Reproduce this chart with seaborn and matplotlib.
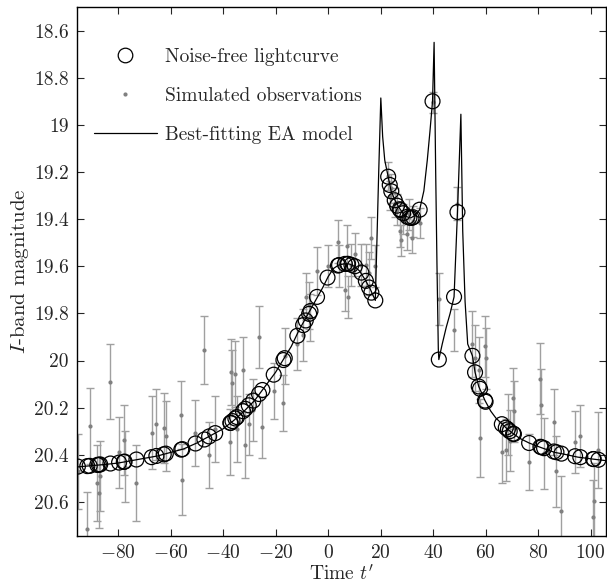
import matplotlib
matplotlib.use("Agg")
import matplotlib.pyplot as plt
from matplotlib.lines import Line2D
from matplotlib.ticker import FuncFormatter, MultipleLocator
import numpy as np
import pandas as pd
import seaborn as sns

# observation epochs, noise-free magnitude, simulated magnitude and its error
obs_t = [-95.3, -91.7, -90.8, -87.9, -87.3, -86.8, -82.9, -79.6, -77.8, -77.5,
         -73.0, -67.2, -65.4, -62.6, -61.8, -55.9, -55.5, -50.5, -47.1, -45.3,
         -43.0, -37.2, -37.1, -36.4, -35.3, -34.7, -32.4, -31.5, -30.2, -28.5,
         -26.3, -25.0, -20.7, -17.0, -16.5, -11.7, -9.5, -8.5, -7.2, -6.7,
         -4.2, -0.2, 3.8, 4.2, 6.4, 7.4, 7.6, 8.9, 10.2, 12.7,
         14.4, 15.6, 16.5, 18.0, 22.9, 23.5, 24.1, 25.4, 26.3, 27.3,
         27.6, 28.6, 30.2, 31.0, 31.8, 32.4, 34.9, 39.8, 42.2, 48.0,
         49.3, 55.0, 56.0, 57.4, 57.9, 59.8, 60.0, 66.2, 67.7, 68.5,
         69.2, 70.5, 70.8, 76.6, 80.9, 81.3, 82.3, 86.0, 87.0, 88.9,
         94.1, 96.1, 101.0, 101.2, 103.0]
true_mag = [20.450, 20.448, 20.447, 20.443, 20.442, 20.441, 20.437, 20.433, 20.430, 20.429,
            20.420, 20.410, 20.405, 20.398, 20.395, 20.378, 20.376, 20.352, 20.335, 20.322,
            20.308, 20.265, 20.264, 20.257, 20.246, 20.240, 20.215, 20.205, 20.190, 20.170,
            20.142, 20.125, 20.060, 19.998, 19.990, 19.895, 19.850, 19.830, 19.802, 19.790,
            19.730, 19.648, 19.597, 19.595, 19.590, 19.590, 19.590, 19.594, 19.600, 19.627,
            19.662, 19.690, 19.712, 19.745, 19.220, 19.255, 19.282, 19.320, 19.343, 19.358,
            19.362, 19.375, 19.390, 19.394, 19.395, 19.392, 19.360, 18.900, 19.996, 19.730,
            19.370, 19.980, 20.050, 20.110, 20.120, 20.170, 20.175, 20.270, 20.285, 20.292,
            20.300, 20.310, 20.312, 20.350, 20.366, 20.368, 20.372, 20.386, 20.389, 20.395,
            20.406, 20.410, 20.418, 20.418, 20.421]
obs_mag = [20.47, 20.716, 20.277, 20.519, 20.56, 20.49, 20.09, 20.39, 20.337, 20.45,
           20.52, 20.306, 20.27, 20.286, 20.32, 20.23, 20.505, 20.306, 19.956, 20.40,
           20.29, 20.347, 20.05, 20.095, 20.056, 20.29, 20.04, 20.36, 20.27, 20.21,
           19.90, 20.284, 20.13, 20.18, 19.98, 19.93, 19.89, 19.73, 19.766, 19.816,
           19.62, 19.60, 19.495, 19.60, 19.70, 19.516, 19.73, 19.595, 19.55, 19.595,
           19.595, 19.63, 19.48, 19.60, 19.217, 19.30, 19.27, 19.33, 19.36, 19.452,
           19.49, 19.40, 19.464, 19.38, 19.48, 19.41, 19.417, 18.905, 19.74, 19.87,
           19.335, 19.93, 19.99, 20.04, 20.33, 19.94, 19.99, 20.39, 20.38, 20.27,
           20.34, 20.16, 20.216, 20.43, 20.077, 20.187, 20.394, 20.26, 20.47, 20.64,
           20.346, 20.32, 20.665, 20.594, 20.38]
obs_err = [0.16, 0.16, 0.16, 0.16, 0.15, 0.15, 0.16, 0.15, 0.15, 0.15,
           0.16, 0.155, 0.15, 0.15, 0.15, 0.145, 0.15, 0.14, 0.145, 0.14,
           0.14, 0.14, 0.14, 0.14, 0.14, 0.14, 0.14, 0.14, 0.13, 0.13,
           0.13, 0.13, 0.12, 0.12, 0.12, 0.11, 0.11, 0.10, 0.10, 0.10,
           0.10, 0.09, 0.09, 0.09, 0.09, 0.09, 0.09, 0.09, 0.09, 0.09,
           0.09, 0.09, 0.09, 0.09, 0.06, 0.06, 0.06, 0.06, 0.065, 0.065,
           0.065, 0.065, 0.065, 0.065, 0.065, 0.065, 0.065, 0.045, 0.11, 0.09,
           0.07, 0.14, 0.14, 0.14, 0.165, 0.13, 0.13, 0.13, 0.13, 0.13,
           0.13, 0.13, 0.13, 0.12, 0.15, 0.15, 0.15, 0.14, 0.15, 0.15,
           0.13, 0.13, 0.16, 0.16, 0.16]

# best-fitting model, sampled by eye from the figure
model_t = [-96, -90, -85, -80, -75, -70, -65, -60, -55, -50,
           -45, -40, -36, -32, -28, -24, -20, -17, -14, -11,
           -8, -5, -2, 0, 2, 4, 6, 8, 10, 12,
           14, 16, 18, 18.6, 19.3, 20.1, 20.8, 21.6, 22.9, 24,
           25.5, 27, 28.5, 30, 31.5, 33, 34.9, 36.5, 37.8, 38.8,
           39.8, 40.4, 41.0, 41.5, 42.0, 42.2, 43.5, 45, 46.5, 48,
           49.3, 50.0, 50.6, 51.3, 52.2, 53.2, 55, 56, 57.4, 59.8,
           62, 64, 66.4, 68.2, 70.5, 73, 76.6, 81.3, 86.4, 88.9,
           95.2, 102.2, 106]
model_mag = [20.452, 20.446, 20.441, 20.435, 20.425, 20.415, 20.405, 20.39, 20.375, 20.35,
             20.32, 20.29, 20.255, 20.215, 20.17, 20.11, 20.05, 19.995, 19.94, 19.87,
             19.81, 19.75, 19.69, 19.645, 19.61, 19.595, 19.59, 19.59, 19.60, 19.62,
             19.655, 19.695, 19.745, 19.5, 19.2, 18.886, 19.05, 19.15, 19.22, 19.28,
             19.32, 19.35, 19.375, 19.39, 19.395, 19.385, 19.36, 19.28, 19.15, 19.03,
             18.90, 18.65, 19.2, 19.6, 19.95, 19.996, 19.93, 19.86, 19.8, 19.73,
             19.37, 19.15, 18.955, 19.45, 19.75, 19.93, 19.98, 20.05, 20.11, 20.17,
             20.215, 20.245, 20.27, 20.29, 20.31, 20.33, 20.35, 20.37, 20.39, 20.395,
             20.41, 20.42, 20.425]

obs = pd.DataFrame({"t": obs_t, "true": true_mag, "mag": obs_mag, "err": obs_err})
model = pd.DataFrame({"t": model_t, "mag": model_mag})

sns.set_style("ticks")
plt.rcParams["font.family"] = "serif"
plt.rcParams["font.serif"] = ["cmr10", "DejaVu Serif"]
plt.rcParams["mathtext.fontset"] = "cm"
plt.rcParams["axes.formatter.use_mathtext"] = True
plt.rcParams["axes.unicode_minus"] = True

fig = plt.figure(figsize=(6.07, 5.84), dpi=100)
ax = fig.add_axes([0.127, 0.082, 0.871, 0.906])

# error bars + simulated points
ax.errorbar(obs["t"], obs["mag"], yerr=obs["err"], fmt="none", ecolor="#a0a0a0",
            elinewidth=1.0, capsize=3, capthick=1.0, zorder=1)
sns.scatterplot(data=obs, x="t", y="mag", ax=ax, color="#808080", s=9,
                linewidth=0, zorder=2, legend=False)
# model
sns.lineplot(data=model, x="t", y="mag", ax=ax, color="black", linewidth=0.9,
             sort=False, estimator=None, zorder=3, legend=False)
# noise-free lightcurve
sns.scatterplot(data=obs, x="t", y="true", ax=ax, facecolor="none", edgecolor="black",
                s=115, linewidth=0.9, zorder=4, legend=False)

ax.set_xlim(-95.6, 105.8)
ax.set_ylim(20.745, 18.5)
ax.xaxis.set_major_locator(MultipleLocator(20))
ax.yaxis.set_major_locator(MultipleLocator(0.2))
ax.yaxis.set_major_formatter(FuncFormatter(lambda v, p: f"{v:g}"))
ax.tick_params(direction="in", top=True, right=True, length=5, width=0.8,
               labelsize=14, pad=6)
for s in ax.spines.values():
    s.set_linewidth(1.0)
    s.set_color("black")

ax.set_xlabel("Time $t'$", fontsize=14, labelpad=1)
ax.set_ylabel("$I$-band magnitude", fontsize=15, labelpad=2)

handles = [
    Line2D([], [], linestyle="none", marker="o", markersize=10.5,
           markerfacecolor="none", markeredgecolor="black", markeredgewidth=0.9),
    Line2D([], [], linestyle="none", marker="o", markersize=3,
           markerfacecolor="#808080", markeredgewidth=0),
    Line2D([], [], color="black", linewidth=0.9),
]
labels = ["Noise-free lightcurve", "Simulated observations", "Best-fitting EA model"]
ax.legend(handles, labels, loc="upper left", frameon=False, fontsize=14,
          handlelength=3.2, handletextpad=0.41, labelspacing=1.08,
          bbox_to_anchor=(0.018, 0.938), borderaxespad=0.0)

fig.savefig("out.png", dpi=100)
